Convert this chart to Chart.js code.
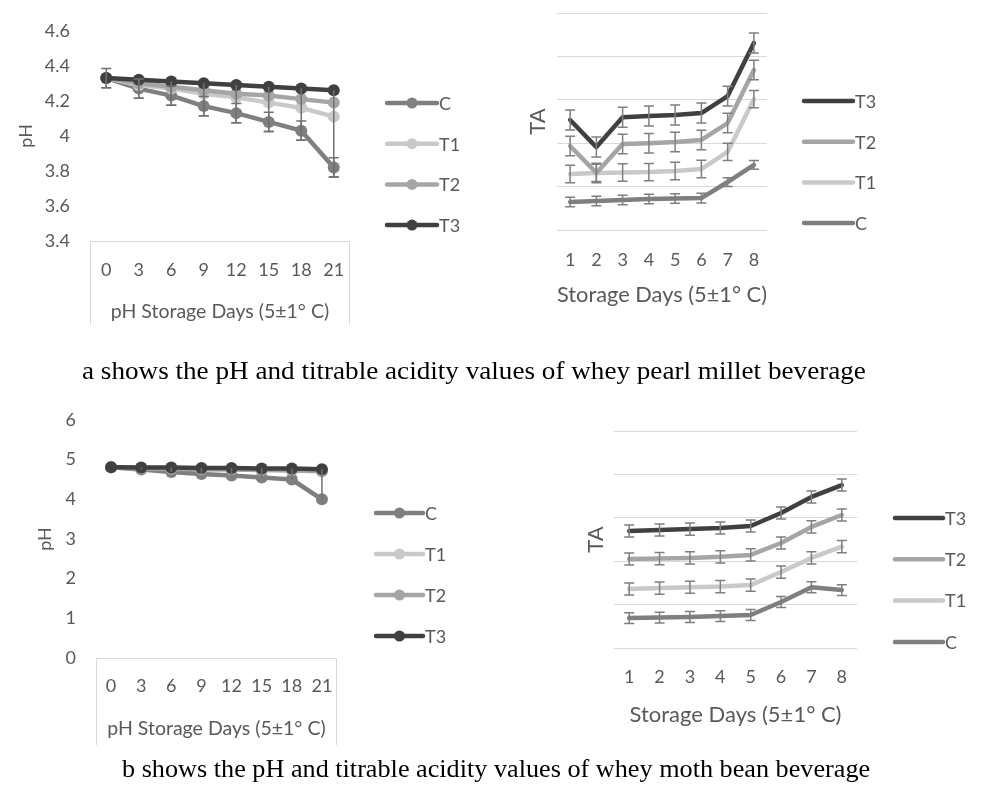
<!DOCTYPE html>
<html>
<head>
<meta charset="utf-8">
<script src="https://cdn.jsdelivr.net/npm/chart.js@4.4.1/dist/chart.umd.min.js"></script>
<style>
    body { margin: 0; background: #fff; width: 983px; height: 794px; position: relative; overflow: hidden; }
    canvas { position: absolute; left: 0; top: 0; }
    .caption { position: absolute; white-space: nowrap; font-family: "Liberation Serif", "Times New Roman", serif; font-size: 26px; line-height: 30px; color: #000; transform-origin: left center; }
</style>
</head>
<body>
<canvas id="chart_ph_millet" width="983" height="794"></canvas>
<canvas id="chart_ta_millet" width="983" height="794"></canvas>
<canvas id="chart_ph_mothbean" width="983" height="794"></canvas>
<canvas id="chart_ta_mothbean" width="983" height="794"></canvas>
<div class="caption" id="cap_a" data-left="82" data-width="784" style="top:356px;">a shows the pH and titrable acidity values of whey pearl millet beverage</div>
<div class="caption" id="cap_b" data-left="122" data-width="748" style="top:754px;">b shows the pH and titrable acidity values of whey moth bean beverage</div>

<script>
// categories
const phDays = ['0', '3', '6', '9', '12', '15', '18', '21'];
const taDays = ['1', '2', '3', '4', '5', '6', '7', '8'];

// tick values
const phTicksMillet = [3.4, 3.6, 3.8, 4, 4.2, 4.4, 4.6];
const phTicksMothbean = [0, 1, 2, 3, 4, 5, 6];
const taGridValues = [0, 0.2, 0.4, 0.6, 0.8, 1];

// a: pearl millet pH
const milletPhC  = [4.33, 4.27, 4.23, 4.17, 4.13, 4.08, 4.03, 3.82];
const milletPhT1 = [4.33, 4.29, 4.27, 4.24, 4.22, 4.19, 4.16, 4.11];
const milletPhT2 = [4.33, 4.30, 4.28, 4.26, 4.24, 4.23, 4.21, 4.19];
const milletPhT3 = [4.33, 4.32, 4.31, 4.30, 4.29, 4.28, 4.27, 4.26];
const milletPhErrC = [0.055, 0.055, 0.055, 0.055, 0.055, 0.055, 0.055, 0.055];
const milletPhErrT3Down = [0.055, 0.105, 0.135, 0.185, 0.215, 0.255, 0.295, 0.495];

// a: pearl millet TA
const milletTaC  = [0.129, 0.134, 0.138, 0.143, 0.145, 0.147, 0.221, 0.300];
const milletTaT1 = [0.258, 0.263, 0.265, 0.267, 0.272, 0.281, 0.360, 0.603];
const milletTaT2 = [0.387, 0.263, 0.396, 0.400, 0.406, 0.415, 0.493, 0.737];
const milletTaT3 = [0.507, 0.382, 0.520, 0.525, 0.530, 0.539, 0.617, 0.862];
const milletTaErrC  = [0.022, 0.022, 0.022, 0.022, 0.022, 0.022, 0.020, 0.020];
const milletTaErrT1 = [0.040, 0.040, 0.040, 0.040, 0.040, 0.040, 0.040, 0.040];
const milletTaErrT2 = [0.045, 0.045, 0.045, 0.045, 0.045, 0.045, 0.045, 0.045];
const milletTaErrT3 = [0.046, 0.046, 0.046, 0.046, 0.046, 0.046, 0.046, 0.046];

// b: moth bean pH
const mothPhC  = [4.81, 4.75, 4.69, 4.64, 4.60, 4.55, 4.50, 4.00];
const mothPhT1 = [4.81, 4.79, 4.78, 4.77, 4.76, 4.75, 4.74, 4.72];
const mothPhT2 = [4.81, 4.78, 4.77, 4.76, 4.75, 4.74, 4.73, 4.71];
const mothPhT3 = [4.81, 4.80, 4.80, 4.79, 4.79, 4.78, 4.78, 4.76];
const mothPhErrT3Down = [0, 0.05, 0.11, 0.15, 0.19, 0.23, 0.28, 0.76];

// b: moth bean TA
const mothTaC  = [0.138, 0.140, 0.143, 0.147, 0.152, 0.212, 0.280, 0.267];
const mothTaT1 = [0.272, 0.276, 0.280, 0.283, 0.290, 0.350, 0.415, 0.467];
const mothTaT2 = [0.410, 0.412, 0.415, 0.420, 0.429, 0.484, 0.558, 0.613];
const mothTaT3 = [0.539, 0.544, 0.548, 0.553, 0.562, 0.622, 0.696, 0.751];
const mothTaErrC  = [0.025, 0.025, 0.025, 0.025, 0.025, 0.025, 0.025, 0.025];
const mothTaErr   = [0.028, 0.028, 0.028, 0.028, 0.028, 0.028, 0.028, 0.028];

const seriesNames = ['C', 'T1', 'T2', 'T3'];
const seriesColors = { C: '#7f7f7f', T1: '#c9c9c9', T2: '#a5a5a5', T3: '#404040' };

Chart.defaults.font.family = 'Lato';
Chart.defaults.font.size = 18;
Chart.defaults.color = '#595959';

// error bars drawn with the chart's own y scale
const errorBarPlugin = {
    id: 'errorBars',
    afterDatasetsDraw(chart, args, opts) {
        let ctx = chart.ctx;
        let yScale = chart.scales.y;
        ctx.save();
        ctx.strokeStyle = opts.color;
        ctx.lineWidth = opts.width;
        chart.data.datasets.forEach((ds, di) => {
            let meta = chart.getDatasetMeta(di);
            ds.data.forEach((v, i) => {
                let up = ds.errUp ? ds.errUp[i] : 0;
                let down = ds.errDown ? ds.errDown[i] : 0;
                if (!up && !down) return;
                let x = meta.data[i].x;
                let yTop = yScale.getPixelForValue(v + up);
                let yBot = yScale.getPixelForValue(v - down);
                ctx.beginPath();
                ctx.moveTo(x, yTop);
                ctx.lineTo(x, yBot);
                if (opts.cap) {
                    if (up) { ctx.moveTo(x - opts.cap, yTop); ctx.lineTo(x + opts.cap, yTop); }
                    if (down) { ctx.moveTo(x - opts.cap, yBot); ctx.lineTo(x + opts.cap, yBot); }
                }
                ctx.stroke();
            });
        });
        ctx.restore();
    }
};

// legend at the right of each plot, Excel style
const sideLegendPlugin = {
    id: 'sideLegend',
    afterDraw(chart, args, opts) {
        let ctx = chart.ctx;
        ctx.save();
        opts.order.forEach((di, k) => {
            let ds = chart.data.datasets[di];
            let y = opts.top + k * opts.gap;
            ctx.strokeStyle = ds.borderColor;
            ctx.lineWidth = 4.5;
            ctx.lineCap = 'round';
            ctx.beginPath();
            ctx.moveTo(opts.x, y);
            ctx.lineTo(opts.x + opts.length, y);
            ctx.stroke();
            if (opts.marker) {
                ctx.fillStyle = ds.borderColor;
                ctx.beginPath();
                ctx.arc(opts.x + opts.length / 2, y, opts.marker, 0, Math.PI * 2);
                ctx.fill();
            }
            ctx.fillStyle = '#595959';
            ctx.font = '18px Lato';
            ctx.textBaseline = 'middle';
            ctx.fillText(ds.label, opts.x + opts.length + 2, y + 1);
        });
        ctx.restore();
    }
};

// light box around the category axis (pH charts)
const axisBoxPlugin = {
    id: 'axisBox',
    afterDraw(chart, args, opts) {
        if (!opts.bottom) return;
        let area = chart.chartArea;
        let ctx = chart.ctx;
        ctx.save();
        ctx.strokeStyle = '#d9d9d9';
        ctx.lineWidth = 1;
        ctx.beginPath();
        ctx.moveTo(area.left + 0.5, opts.bottom);
        ctx.lineTo(area.left + 0.5, area.bottom + 0.5);
        ctx.lineTo(area.right - 0.5, area.bottom + 0.5);
        ctx.lineTo(area.right - 0.5, opts.bottom);
        ctx.stroke();
        ctx.restore();
    }
};

function buildDatasets(values, errs, markerRadius) {
    return seriesNames.map((name, i) => ({
        label: name,
        data: values[i],
        errUp: errs[i] ? errs[i].up : null,
        errDown: errs[i] ? errs[i].down : null,
        borderColor: seriesColors[name],
        backgroundColor: seriesColors[name],
        borderWidth: 4.5,
        pointRadius: markerRadius,
        pointBorderWidth: 0,
        pointHoverRadius: markerRadius,
        tension: 0,
        borderCapStyle: 'round',
        borderJoinStyle: 'round',
        order: 3 - i
    }));
}

function renderChart(canvasId, cfg) {
    let ctx = document.getElementById(canvasId).getContext('2d');
    new Chart(ctx, {
        type: 'line',
        data: { labels: cfg.labels, datasets: cfg.datasets },
        options: {
            responsive: false,
            animation: false,
            events: [],
            layout: { padding: cfg.padding },
            plugins: {
                legend: { display: false },
                tooltip: { enabled: false },
                errorBars: cfg.errorBars,
                sideLegend: cfg.legend,
                axisBox: { bottom: cfg.boxBottom }
            },
            scales: {
                x: {
                    offset: true,
                    afterFit: s => { s.height = cfg.xHeight; },
                    grid: { display: false, drawTicks: false },
                    border: { display: false },
                    ticks: { padding: cfg.xTickPad, autoSkip: false, maxRotation: 0 },
                    title: {
                        display: true, text: cfg.xTitle,
                        font: { size: cfg.xTitleSize },
                        padding: { top: 0, bottom: cfg.xTitlePad }
                    }
                },
                y: {
                    min: cfg.yTicks[0],
                    max: cfg.yTicks[cfg.yTicks.length - 1],
                    afterBuildTicks: s => { s.ticks = cfg.yTicks.map(v => ({ value: v })); },
                    afterFit: s => { s.width = cfg.yWidth; },
                    grid: cfg.yGrid ? { color: '#d9d9d9', lineWidth: 1, drawTicks: false } : { display: false, drawTicks: false },
                    border: { display: false },
                    ticks: { display: cfg.yLabels, padding: 20, callback: v => String(+v.toFixed(1)) },
                    title: {
                        display: true, text: cfg.yTitle,
                        font: { size: cfg.yTitleSize },
                        padding: { top: cfg.yTitlePad, bottom: 0 }
                    }
                }
            }
        },
        plugins: [errorBarPlugin, sideLegendPlugin, axisBoxPlugin]
    });
}

// a: pH
renderChart('chart_ph_millet', {
    labels: phDays,
    datasets: buildDatasets(
        [milletPhC, milletPhT1, milletPhT2, milletPhT3],
        [{ up: milletPhErrC, down: milletPhErrC }, null, null, { up: null, down: milletPhErrT3Down }],
        6),
    padding: { left: 0, top: 16, right: 633, bottom: 469 },
    xHeight: 84, xTickPad: 18, xTitlePad: 1.5, xTitleSize: 19.5, xTitle: 'pH Storage Days (5±1° C)',
    yTicks: phTicksMillet, yWidth: 90, yLabels: true, yGrid: false, yTitle: 'pH', yTitleSize: 18, yTitlePad: 15,
    errorBars: { color: '#707070', width: 1.5, cap: 5 },
    legend: { order: [0, 1, 2, 3], x: 387, length: 50, top: 103, gap: 40.7, marker: 5.5 },
    boxBottom: 325
});

// a: TA
renderChart('chart_ta_millet', {
    labels: taDays,
    datasets: buildDatasets(
        [milletTaC, milletTaT1, milletTaT2, milletTaT3],
        [{ up: milletTaErrC, down: milletTaErrC }, { up: milletTaErrT1, down: milletTaErrT1 },
         { up: milletTaErrT2, down: milletTaErrT2 }, { up: milletTaErrT3, down: milletTaErrT3 }],
        0),
    padding: { left: 520, top: 13, right: 216, bottom: 484 },
    xHeight: 80, xTickPad: 19, xTitlePad: 2, xTitleSize: 22, xTitle: 'Storage Days (5±1° C)',
    yTicks: taGridValues, yWidth: 37, yLabels: false, yGrid: true, yTitle: 'TA', yTitleSize: 22, yTitlePad: 5,
    errorBars: { color: '#7f7f7f', width: 1.5, cap: 5 },
    legend: { order: [3, 2, 1, 0], x: 804, length: 49, top: 101, gap: 40.7, marker: 0 },
    boxBottom: 0
});

// b: pH
renderChart('chart_ph_mothbean', {
    labels: phDays,
    datasets: buildDatasets(
        [mothPhC, mothPhT1, mothPhT2, mothPhT3],
        [null, null, null, { up: null, down: mothPhErrT3Down }],
        6),
    padding: { left: 0, top: 420, right: 646, bottom: 49 },
    xHeight: 87, xTickPad: 17, xTitlePad: 5, xTitleSize: 19.5, xTitle: 'pH Storage Days (5±1° C)',
    yTicks: phTicksMothbean, yWidth: 96, yLabels: true, yGrid: false, yTitle: 'pH', yTitleSize: 18, yTitlePad: 34,
    errorBars: { color: '#707070', width: 1.5, cap: 0 },
    legend: { order: [0, 1, 2, 3], x: 376, length: 47, top: 513, gap: 41, marker: 5.5 },
    boxBottom: 745
});

// b: TA
renderChart('chart_ta_mothbean', {
    labels: taDays,
    datasets: buildDatasets(
        [mothTaC, mothTaT1, mothTaT2, mothTaT3],
        [{ up: mothTaErrC, down: mothTaErrC }, { up: mothTaErr, down: mothTaErr },
         { up: mothTaErr, down: mothTaErr }, { up: mothTaErr, down: mothTaErr }],
        0),
    padding: { left: 570, top: 431, right: 126, bottom: 64 },
    xHeight: 82, xTickPad: 18, xTitlePad: 2, xTitleSize: 22, xTitle: 'Storage Days (5±1° C)',
    yTicks: taGridValues, yWidth: 44, yLabels: false, yGrid: true, yTitle: 'TA', yTitleSize: 22, yTitlePad: 13,
    errorBars: { color: '#7f7f7f', width: 1.5, cap: 5 },
    legend: { order: [3, 2, 1, 0], x: 895, length: 48, top: 518, gap: 41.3, marker: 0 },
    boxBottom: 0
});

// captions: stretch each to the width it has in the figure
document.querySelectorAll('.caption').forEach(el => {
    let w = el.getBoundingClientRect().width;
    let target = +el.dataset.width;
    el.style.left = el.dataset.left + 'px';
    el.style.transform = 'scaleX(' + (target / w).toFixed(3) + ')';
});
</script>
</body>
</html>
